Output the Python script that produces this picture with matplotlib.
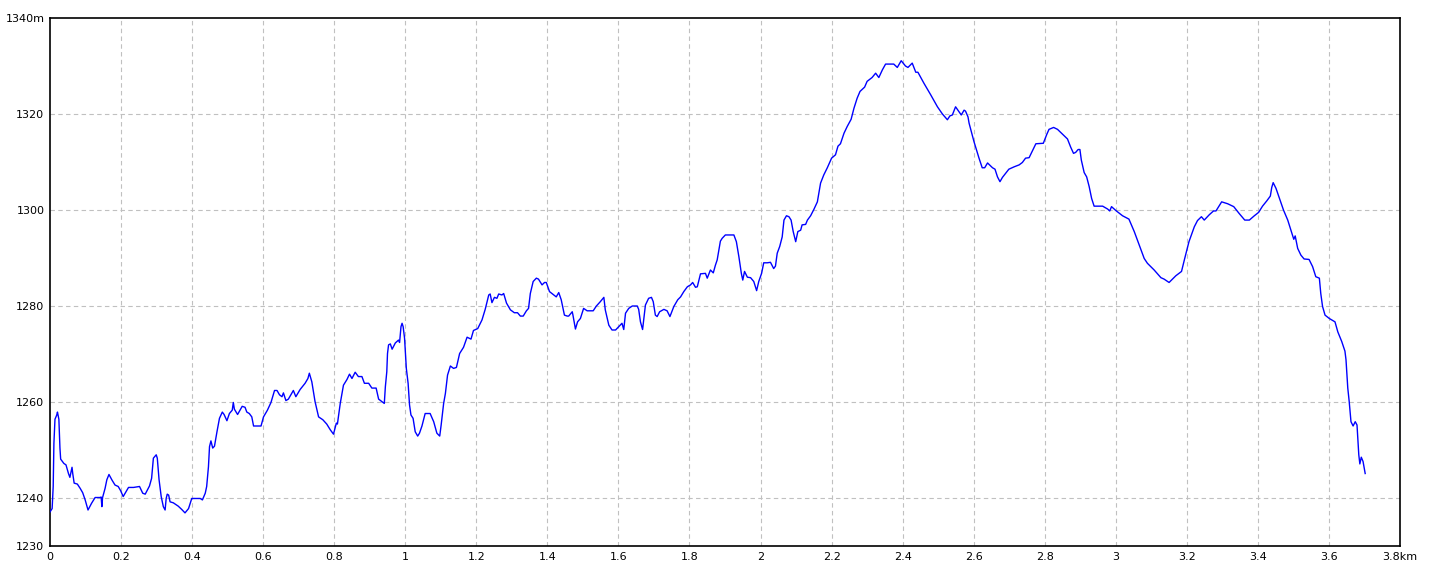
import matplotlib
matplotlib.use("Agg")
import matplotlib.pyplot as plt
from matplotlib.ticker import FixedLocator

distance_km = [
    0.000, 0.006, 0.009, 0.011, 0.014, 0.019, 0.021, 0.025, 0.028, 0.030,
    0.039, 0.045, 0.052, 0.056, 0.062, 0.064, 0.068, 0.077, 0.085, 0.092,
    0.099, 0.107, 0.117, 0.127, 0.141, 0.144, 0.146, 0.148, 0.155, 0.160,
    0.166, 0.174, 0.183, 0.192, 0.199, 0.206, 0.221, 0.235, 0.252, 0.261,
    0.268, 0.280, 0.286, 0.291, 0.299, 0.302, 0.307, 0.313, 0.319, 0.324,
    0.327, 0.330, 0.334, 0.338, 0.347, 0.361, 0.371, 0.380, 0.390, 0.399,
    0.423, 0.429, 0.437, 0.441, 0.446, 0.449, 0.453, 0.458, 0.463, 0.470,
    0.477, 0.485, 0.490, 0.498, 0.505, 0.513, 0.516, 0.519, 0.528, 0.535,
    0.541, 0.549, 0.554, 0.561,
    0.568, 0.573, 0.594, 0.601, 0.612, 0.622, 0.632, 0.639, 0.646, 0.653,
    0.657, 0.664, 0.671, 0.685, 0.692, 0.704, 0.718, 0.726, 0.730, 0.737,
    0.746, 0.756, 0.768, 0.779, 0.789, 0.798, 0.806, 0.809, 0.817, 0.826,
    0.836, 0.843, 0.850, 0.859, 0.868, 0.878, 0.885, 0.897, 0.906, 0.918,
    0.925, 0.934, 0.941, 0.944, 0.948, 0.950, 0.953, 0.958, 0.963, 0.972,
    0.981, 0.984, 0.988, 0.991, 0.994, 0.998, 1.003, 1.008, 1.012, 1.016,
    1.022, 1.028, 1.035, 1.040, 1.047, 1.056, 1.070, 1.080, 1.089, 1.097,
    1.101, 1.108, 1.113, 1.119, 1.127, 1.136, 1.144, 1.153, 1.164, 1.174,
    1.185, 1.192, 1.204, 1.216, 1.225, 1.235, 1.239, 1.244, 1.251, 1.258,
    1.263, 1.272, 1.277, 1.285, 1.296, 1.307, 1.316, 1.324, 1.332, 1.341,
    1.347, 1.352, 1.360, 1.369, 1.375, 1.385, 1.392, 1.397, 1.406, 1.418,
    1.425, 1.432, 1.439, 1.448, 1.456, 1.460, 1.470, 1.472, 1.479, 1.485,
    1.493, 1.502, 1.512, 1.521, 1.529, 1.538, 1.549, 1.559, 1.563, 1.573,
    1.582, 1.592, 1.601, 1.610, 1.615, 1.620, 1.629, 1.639, 1.653, 1.657,
    1.662, 1.668, 1.676, 1.685, 1.693, 1.698, 1.704, 1.709, 1.716, 1.728,
    1.737, 1.745, 1.756, 1.767, 1.775, 1.784, 1.794, 1.803, 1.809, 1.817,
    1.822, 1.831, 1.845, 1.850, 1.859, 1.867, 1.873, 1.878,
    1.887, 1.892, 1.901, 1.925, 1.932, 1.939, 1.946, 1.950, 1.955, 1.963,
    1.972, 1.981, 1.989, 1.995, 2.003, 2.009, 2.019, 2.028, 2.037, 2.042,
    2.047, 2.054, 2.061, 2.066, 2.073, 2.080, 2.086, 2.092, 2.099, 2.105,
    2.113, 2.117, 2.127, 2.132, 2.141, 2.150, 2.160, 2.169, 2.178, 2.188,
    2.200, 2.211, 2.218, 2.225, 2.235, 2.244, 2.255, 2.263, 2.272, 2.280,
    2.293, 2.300, 2.314, 2.324, 2.333, 2.343, 2.352, 2.375, 2.385, 2.396,
    2.408, 2.415, 2.427, 2.437, 2.443, 2.460, 2.479, 2.498, 2.512, 2.526,
    2.533, 2.540, 2.549, 2.565, 2.573, 2.577, 2.584,
    2.587, 2.601, 2.615, 2.624, 2.631, 2.639, 2.653, 2.660, 2.667, 2.674,
    2.681, 2.699, 2.714, 2.728, 2.737, 2.746, 2.756, 2.775, 2.796, 2.806,
    2.812, 2.825, 2.836, 2.850, 2.864, 2.873, 2.881, 2.887, 2.894, 2.899,
    2.903, 2.911, 2.918, 2.925, 2.932, 2.939, 2.963, 2.977, 2.983, 2.988,
    3.000, 3.019, 3.037, 3.052, 3.066, 3.080, 3.089, 3.108, 3.127, 3.136,
    3.150, 3.169, 3.185, 3.194, 3.206,
    3.221, 3.230, 3.241, 3.249, 3.263, 3.275, 3.282, 3.298, 3.315, 3.332,
    3.347, 3.363, 3.376, 3.390, 3.402, 3.413, 3.425, 3.435, 3.439, 3.443,
    3.451, 3.460, 3.472, 3.484, 3.493, 3.501, 3.505, 3.512, 3.521, 3.530,
    3.544, 3.554, 3.563, 3.573, 3.577, 3.582, 3.589, 3.601, 3.617, 3.625,
    3.636, 3.645, 3.648, 3.653, 3.657, 3.662, 3.668, 3.674, 3.679, 3.684,
    3.687, 3.691, 3.696, 3.702,
]

elevation_m = [
    1237.1, 1237.8, 1242.4, 1251.4, 1256.4, 1257.3, 1257.9, 1256.4, 1250.4, 1248.1,
    1247.2, 1246.9, 1245.1, 1244.3, 1246.4, 1245.1, 1243.1, 1242.9, 1242.0, 1241.1,
    1239.6, 1237.5, 1238.9, 1240.1, 1240.1, 1240.2, 1238.2, 1240.1, 1242.0, 1243.8,
    1244.9, 1243.8, 1242.7, 1242.4, 1241.5, 1240.3, 1242.2, 1242.2, 1242.4, 1241.0,
    1240.8, 1242.5, 1244.1, 1248.3, 1249.0, 1248.3, 1243.8, 1240.3, 1238.2, 1237.5,
    1239.9, 1240.8, 1240.6, 1239.2, 1239.0, 1238.3, 1237.6, 1236.9, 1237.8, 1239.9,
    1239.9, 1239.6, 1241.0, 1242.4, 1246.5, 1250.7, 1251.9, 1250.4, 1250.8, 1253.8,
    1256.6, 1257.9, 1257.4, 1256.1, 1257.6, 1258.3, 1259.9, 1258.5, 1257.4, 1258.3,
    1259.1, 1258.9, 1257.9, 1257.6,
    1256.9, 1255.0, 1255.0, 1256.9, 1258.3, 1259.9, 1262.4, 1262.4, 1261.5, 1261.1,
    1261.9, 1260.3, 1260.6, 1262.4, 1261.1, 1262.6, 1263.9, 1264.9, 1266.0, 1264.2,
    1260.1, 1256.9, 1256.3, 1255.4, 1254.2, 1253.3, 1255.6, 1255.4, 1259.7, 1263.5,
    1264.7, 1265.8, 1264.9, 1266.2, 1265.3, 1265.3, 1263.9, 1263.9, 1262.9, 1262.9,
    1260.6, 1260.1, 1259.7, 1263.2, 1266.3, 1270.1, 1271.9, 1272.1, 1271.0, 1272.3,
    1272.9, 1272.4, 1275.7, 1276.4, 1275.7, 1273.3, 1267.0, 1263.9, 1259.4, 1257.3,
    1256.6, 1253.8, 1252.9, 1253.5, 1255.0, 1257.6, 1257.6, 1255.9, 1253.5, 1252.9,
    1255.2, 1259.7, 1261.8, 1265.6, 1267.5, 1267.0, 1267.2, 1270.1, 1271.4, 1273.5,
    1273.1, 1274.9, 1275.3, 1277.1, 1279.3, 1282.3, 1282.5, 1280.7, 1281.8, 1281.6,
    1282.5, 1282.3, 1282.6, 1280.6, 1279.2, 1278.6, 1278.6, 1277.9, 1277.9, 1279.0,
    1279.5, 1282.6, 1285.1, 1285.8, 1285.6, 1284.4, 1284.9, 1284.9, 1283.0, 1282.3,
    1281.9, 1282.8, 1281.3, 1278.1, 1277.9, 1277.9, 1278.8, 1278.1, 1275.2, 1276.7,
    1277.4, 1279.5, 1279.0, 1279.0, 1279.0, 1280.0, 1280.9, 1281.8, 1279.2, 1276.0,
    1275.0, 1275.0, 1275.7, 1276.4, 1275.1, 1278.5, 1279.5, 1280.0, 1280.0, 1279.3,
    1276.7, 1275.1, 1280.2, 1281.6, 1281.8, 1280.9, 1278.1, 1277.8, 1278.8, 1279.3,
    1279.0, 1277.8, 1279.9, 1281.3, 1281.9, 1283.0, 1284.0, 1284.4, 1284.9, 1283.9,
    1284.0, 1286.7, 1286.8, 1285.8, 1287.5, 1286.9, 1288.5, 1289.6,
    1293.5, 1294.1, 1294.8, 1294.8, 1293.4, 1290.3, 1286.8, 1285.4, 1287.2, 1286.0,
    1285.9, 1285.1, 1283.2, 1285.1, 1286.8, 1289.0, 1289.0, 1289.1, 1287.8, 1288.3,
    1291.0, 1292.4, 1294.4, 1297.9, 1298.8, 1298.6, 1297.9, 1295.5, 1293.4, 1295.5,
    1295.8, 1296.9, 1297.0, 1297.9, 1298.8, 1300.1, 1301.7, 1305.6, 1307.3, 1308.8,
    1310.8, 1311.5, 1313.3, 1313.8, 1316.0, 1317.4, 1318.9, 1321.2, 1323.3, 1324.7,
    1325.6, 1326.8, 1327.6, 1328.5, 1327.6, 1329.2, 1330.4, 1330.4, 1329.7, 1331.1,
    1330.0, 1329.7, 1330.6, 1328.7, 1328.7, 1326.4, 1324.0, 1321.5, 1320.0, 1318.8,
    1319.6, 1319.8, 1321.5, 1319.8, 1320.8, 1320.6, 1319.4,
    1318.1, 1314.2, 1310.8, 1308.8, 1308.8, 1309.8, 1308.8, 1308.5, 1306.9, 1305.9,
    1306.8, 1308.5, 1309.0, 1309.4, 1309.9, 1310.8, 1310.9, 1313.8, 1313.9, 1315.8,
    1316.8, 1317.2, 1316.8, 1315.8, 1314.8, 1313.1, 1311.8, 1312.0, 1312.6, 1312.6,
    1310.4, 1307.8, 1306.9, 1304.9, 1302.4, 1300.8, 1300.8, 1300.2, 1299.8, 1300.7,
    1299.9, 1298.8, 1298.1, 1295.5, 1292.7, 1289.9, 1288.9, 1287.5, 1285.9, 1285.6,
    1284.9, 1286.3, 1287.2, 1289.9, 1293.4,
    1296.5, 1297.8, 1298.6, 1297.9, 1299.0, 1299.8, 1299.8, 1301.7, 1301.3, 1300.7,
    1299.3, 1297.9, 1297.9, 1298.8, 1299.5, 1300.8, 1301.9, 1302.9, 1304.7, 1305.7,
    1304.5, 1302.6, 1300.0, 1297.9, 1295.8, 1293.9, 1294.6, 1292.0, 1290.6, 1289.8,
    1289.7, 1288.2, 1286.1, 1285.8, 1282.6, 1279.9, 1278.1, 1277.4, 1276.7, 1274.6,
    1272.6, 1270.6, 1268.8, 1262.9, 1260.1, 1255.9, 1255.0, 1255.9, 1255.2, 1249.0,
    1247.1, 1248.5, 1247.6, 1245.1,
]

x_ticks = [0.0, 0.2, 0.4, 0.6, 0.8, 1.0, 1.2, 1.4, 1.6, 1.8, 2.0,
           2.2, 2.4, 2.6, 2.8, 3.0, 3.2, 3.4, 3.6, 3.8]
x_tick_labels = ["0", "0.2", "0.4", "0.6", "0.8", "1", "1.2", "1.4", "1.6", "1.8",
                 "2", "2.2", "2.4", "2.6", "2.8", "3", "3.2", "3.4", "3.6", "3.8km"]
y_ticks = [1230, 1240, 1260, 1280, 1300, 1320, 1340]
y_tick_labels = ["1230", "1240", "1260", "1280", "1300", "1320", "1340m"]
grid_y = [1240, 1260, 1280, 1300, 1320]
grid_x = x_ticks[1:-1]

fig = plt.figure(figsize=(14.4, 5.76), dpi=100)
ax = fig.add_axes([50 / 1440, 30 / 576, 1350 / 1440, 528 / 576])

ax.set_xlim(0, 3.8)
ax.set_ylim(1230, 1340)

for gx in grid_x:
    ax.axvline(gx, color="#c0c0c0", lw=0.8, ls=(0, (4, 3)), zorder=1)
for gy in grid_y:
    ax.axhline(gy, color="#c0c0c0", lw=0.8, ls=(0, (4, 3)), zorder=1)

ax.plot(distance_km, elevation_m, color="#0000ff", lw=1.0, zorder=3)

ax.xaxis.set_major_locator(FixedLocator(x_ticks))
ax.set_xticklabels(x_tick_labels)
ax.yaxis.set_major_locator(FixedLocator(y_ticks))
ax.set_yticklabels(y_tick_labels)
ax.tick_params(axis="both", length=0, labelsize=8, colors="black")
ax.tick_params(axis="x", pad=4)
ax.tick_params(axis="y", pad=4)

for s in ax.spines.values():
    s.set_color("black")
    s.set_linewidth(1.2)

fig.savefig("out.png", dpi=100, facecolor="white")
